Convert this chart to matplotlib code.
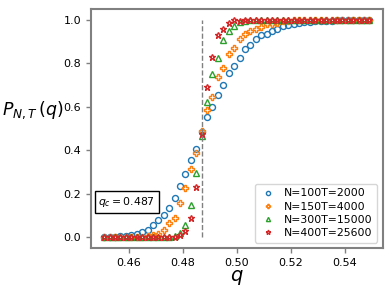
import numpy as np
import matplotlib
matplotlib.use("Agg")
import matplotlib.pyplot as plt

q = np.round(np.arange(0.451, 0.5495, 0.002), 3)

p_100 = [0, 0, 0.002, 0.003, 0.006, 0.010, 0.016, 0.022, 0.033, 0.054,
         0.078, 0.104, 0.136, 0.180, 0.235, 0.290, 0.356, 0.406, 0.485, 0.553,
         0.597, 0.656, 0.701, 0.757, 0.786, 0.825, 0.865, 0.885, 0.912, 0.930,
         0.936, 0.951, 0.959, 0.970, 0.975, 0.980, 0.985, 0.988, 0.991, 0.993,
         0.995, 0.996, 0.997, 0.998, 0.999, 0.999, 1.0, 1.0, 1.0, 1.0]
p_150 = [0, 0, 0, 0, 0, 0, 0, 0.002, 0.005, 0.011,
         0.014, 0.032, 0.064, 0.088, 0.156, 0.227, 0.313, 0.388, 0.488, 0.583,
         0.645, 0.736, 0.780, 0.844, 0.871, 0.910, 0.933, 0.950, 0.956, 0.968,
         0.980, 0.982, 0.986, 0.995, 0.997, 0.998, 0.999, 1.0, 1.0, 1.0,
         1.0, 1.0, 1.0, 1.0, 1.0, 1.0, 1.0, 1.0, 1.0, 1.0]
p_300 = [0, 0, 0, 0, 0, 0, 0, 0, 0, 0,
         0, 0, 0, 0.007, 0.018, 0.054, 0.147, 0.294, 0.465, 0.623,
         0.750, 0.823, 0.906, 0.951, 0.974, 0.990, 0.997, 0.999, 1.0, 1.0,
         1.0, 1.0, 1.0, 1.0, 1.0, 1.0, 1.0, 1.0, 1.0, 1.0,
         1.0, 1.0, 1.0, 1.0, 1.0, 1.0, 1.0, 1.0, 1.0, 1.0]
p_400 = [0, 0, 0, 0, 0, 0, 0, 0, 0, 0,
         0, 0, 0, 0.002, 0.008, 0.030, 0.089, 0.229, 0.473, 0.689,
         0.829, 0.930, 0.959, 0.985, 1.0, 0.997, 1.0, 1.0, 1.0, 1.0,
         1.0, 1.0, 1.0, 1.0, 1.0, 1.0, 1.0, 1.0, 1.0, 1.0,
         1.0, 1.0, 1.0, 1.0, 1.0, 1.0, 1.0, 1.0, 1.0, 1.0]
labels = ["N=100T=2000", "N=150T=4000", "N=300T=15000", "N=400T=25600"]
q_c = 0.487

fig = plt.figure(figsize=(3.92, 2.94), dpi=100)
ax = fig.add_axes([91/392, 1 - 248/294, (382.7 - 91)/392, (248 - 9)/294])

styles = [("o", "#1f77b4"), ("P", "#ff7f0e"), ("^", "#2ca02c"), ("*", "#d62728")]
for data, (m, c), lab in zip([p_100, p_150, p_300, p_400], styles, labels):
    ax.plot(q, data, linestyle="none", marker=m, markersize=4.3 if m != "*" else 5,
            markerfacecolor="none", markeredgecolor=c, markeredgewidth=1.0, label=lab)

ax.plot([q_c, q_c], [0, 1], linestyle="--", color="gray", linewidth=1.0)

ax.set_xticks([0.46, 0.48, 0.50, 0.52, 0.54])
ax.set_yticks([0.0, 0.2, 0.4, 0.6, 0.8, 1.0])
ax.tick_params(labelsize=8, color="gray", width=1.0, length=3.5)
for s in ax.spines.values():
    s.set_color("gray")
    s.set_linewidth(1.5)

ax.set_xlabel("$q$", fontsize=14, labelpad=0)
ax.set_ylabel("$P_{N,T}\\,(q)$", fontsize=12.5, rotation=0)
ax.yaxis.set_label_coords(-0.2, 0.53)

ax.text(0.123, 0.192, "$q_c = 0.487$", transform=ax.transAxes, fontsize=7.8,
        ha="center", va="center",
        bbox=dict(boxstyle="square,pad=0.35", facecolor="white", edgecolor="black", linewidth=1.0))

ax.legend(loc="lower right", fontsize=7.8, markerscale=0.7, handlelength=1.6,
          handletextpad=0.7, borderpad=0.4, labelspacing=0.3)

fig.savefig("out.png", dpi=100)
